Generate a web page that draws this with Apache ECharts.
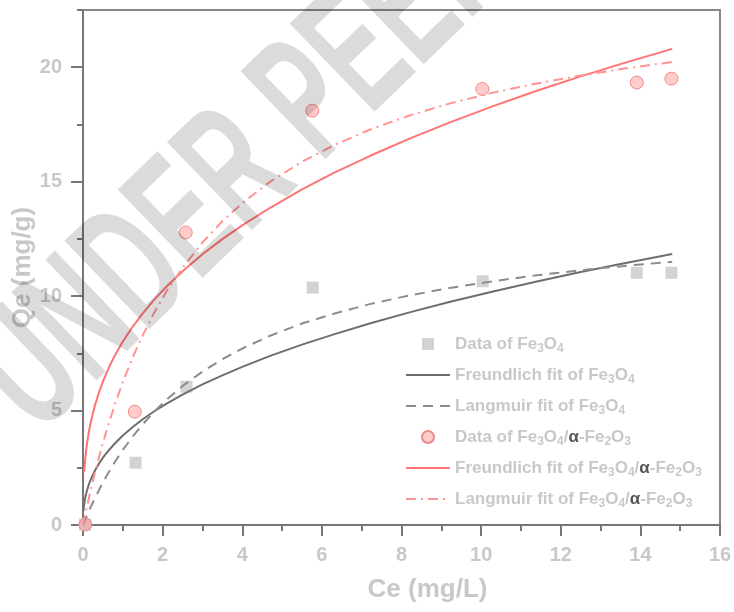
<!DOCTYPE html>
<html>
<head>
<meta charset="utf-8">
<script src="https://cdn.jsdelivr.net/npm/echarts@6/dist/echarts.min.js"></script>
<style>
  html, body { margin: 0; padding: 0; background: #fff; }
  #chart { width: 734px; height: 612px; }
</style>
</head>
<body>
<div id="chart"></div>
<script>
// measured data
const fe3o4X = [0.05, 1.32, 2.6, 5.77, 10.04, 13.91, 14.78]
const fe3o4Q = [0.02, 2.72, 6.04, 10.37, 10.65, 11.02, 11.02]
const compX = [0.06, 1.30, 2.58, 5.76, 10.03, 13.91, 14.78]
const compQ = [0.02, 4.95, 12.78, 18.1, 19.05, 19.33, 19.5]

// fit curves
const freFeX = [0.01, 0.02, 0.04, 0.07, 0.1, 0.15, 0.2, 0.3, 0.4, 0.5, 0.65, 0.8, 1.0, 1.25, 1.5, 1.8, 2.1, 2.5, 3.0, 3.5, 4.0, 4.7, 5.5, 6.3, 7.2, 8.2, 9.2, 10.3, 11.4, 12.5, 13.6, 14.8]
const freFeQ = [0.59, 0.78, 1.04, 1.31, 1.51, 1.79, 2.01, 2.38, 2.68, 2.94, 3.27, 3.56, 3.91, 4.28, 4.62, 4.98, 5.3, 5.7, 6.14, 6.54, 6.91, 7.39, 7.88, 8.33, 8.8, 9.29, 9.74, 10.2, 10.64, 11.05, 11.44, 11.84]
const lanFeX = [0, 0.05, 0.1, 0.2, 0.3, 0.45, 0.6, 0.8, 1.0, 1.25, 1.5, 1.8, 2.1, 2.5, 3.0, 3.5, 4.0, 4.7, 5.5, 6.3, 7.2, 8.2, 9.2, 10.3, 11.4, 12.5, 13.6, 14.8]
const lanFeQ = [0, 0.21, 0.41, 0.81, 1.17, 1.69, 2.17, 2.75, 3.28, 3.87, 4.4, 4.97, 5.48, 6.07, 6.7, 7.24, 7.71, 8.27, 8.8, 9.23, 9.65, 10.03, 10.35, 10.65, 10.91, 11.13, 11.32, 11.5]
const freCompX = [0.025, 0.04, 0.07, 0.1, 0.15, 0.2, 0.3, 0.4, 0.5, 0.65, 0.8, 1.0, 1.25, 1.5, 1.8, 2.1, 2.5, 3.0, 3.5, 4.0, 4.7, 5.5, 6.3, 7.2, 8.2, 9.2, 10.3, 11.4, 12.5, 13.6, 14.8]
const freCompQ = [2.3, 2.56, 3.13, 3.55, 4.1, 4.53, 5.23, 5.79, 6.27, 6.88, 7.41, 8.02, 8.67, 9.25, 9.87, 10.42, 11.09, 11.83, 12.49, 13.09, 13.86, 14.66, 15.38, 16.12, 16.88, 17.58, 18.3, 18.97, 19.6, 20.19, 20.8]
const lanCompX = [0, 0.05, 0.1, 0.2, 0.3, 0.45, 0.6, 0.8, 1.0, 1.25, 1.5, 1.8, 2.1, 2.5, 3.0, 3.5, 4.0, 4.7, 5.5, 6.3, 7.2, 8.2, 9.2, 10.3, 11.4, 12.5, 13.6, 14.8]
const lanCompQ = [0, 0.41, 0.81, 1.57, 2.29, 3.27, 4.18, 5.27, 6.24, 7.33, 8.29, 9.31, 10.21, 11.24, 12.34, 13.27, 14.06, 15.0, 15.87, 16.59, 17.27, 17.89, 18.41, 18.89, 19.29, 19.64, 19.94, 20.23]

const yMajorTicks = [0, 5, 10, 15, 20]
const yMinorTicks = [2.5, 7.5, 12.5, 17.5, 22.5]

const names = [
  'Data of Fe3O4',
  'Freundlich fit of Fe3O4',
  'Langmuir fit of Fe3O4',
  'Data of Fe3O4/α-Fe2O3',
  'Freundlich fit of Fe3O4/α-Fe2O3',
  'Langmuir fit of Fe3O4/α-Fe2O3',
]

const zip = (xs, ys) => xs.map((x, i) => [x, ys[i]])

// legend label with subscripts
const legendText = (name) =>
  name
    .replace(/Fe3O4/g, 'Fe{s|3}O{s|4}')
    .replace(/Fe2O3/g, 'Fe{s|2}O{s|3}')
    .replace(/α/g, '{a|α}')

const labelColor = '#c8c8c8'
const axisColor = '#777'

const chart = echarts.init(document.getElementById('chart'))

const lineSeries = (name, xs, ys, color, type) => ({
  name,
  type: 'line',
  data: zip(xs, ys),
  showSymbol: false,
  symbol: 'none',
  z: 3,
  lineStyle: { color, width: 2, type },
  itemStyle: { color },
})

// line legend entries: hide the dot in the middle of the icon
const noDot = { opacity: 0 }
const square = 'path://M0,0L10,0L10,10L0,10Z'

const option = {
  animation: false,
  grid: {
    left: 83, top: 10, width: 637, height: 515,
    outerBoundsMode: 'none',
    containLabel: false,
    show: true, borderColor: '#888', borderWidth: 2,
  },
  legend: {
    orient: 'vertical',
    left: 400,
    top: 328,
    itemWidth: 44,
    itemHeight: 12,
    itemGap: 9,
    data: [
      { name: names[0], icon: square },
      { name: names[1], itemStyle: noDot },
      { name: names[2], itemStyle: noDot },
      { name: names[3] },
      { name: names[4], itemStyle: noDot },
      { name: names[5], itemStyle: noDot },
    ],
    formatter: legendText,
    textStyle: {
      color: labelColor,
      fontSize: 17,
      fontWeight: 'bold',
      fontFamily: 'Arial',
      lineHeight: 20,
      rich: {
        s: { fontSize: 12, fontWeight: 'bold', color: labelColor, fontFamily: 'Arial', lineHeight: 12, padding: [10, 0, 0, 0] },
        a: { fontSize: 17, fontWeight: 'bold', color: '#555', fontFamily: 'Arial', lineHeight: 20 },
      },
    },
  },
  xAxis: {
    type: 'value',
    min: 0, max: 16, interval: 2,
    name: 'Ce (mg/L)',
    nameLocation: 'middle',
    nameGap: 52,
    nameTextStyle: { color: labelColor, fontSize: 26, fontWeight: 'bold', fontFamily: 'Arial', padding: [0, 0, 0, 52] },
    axisLine: { lineStyle: { color: axisColor, width: 2 } },
    axisTick: { length: 11, lineStyle: { color: axisColor, width: 2 } },
    minorTick: { show: true, splitNumber: 2, length: 6, lineStyle: { color: axisColor, width: 2 } },
    splitLine: { show: false },
    axisLabel: { color: labelColor, fontSize: 20, fontWeight: 'bold', fontFamily: 'Arial', margin: 20 },
  },
  yAxis: [
    {
      type: 'value',
      min: 0, max: 22.5,
      name: 'Qe (mg/g)',
      nameLocation: 'middle',
      nameGap: 47,
      nameMoveOverlap: false,
      nameRotate: 90,
      nameTextStyle: { color: labelColor, fontSize: 26, fontWeight: 'bold', fontFamily: 'Arial' },
      axisLine: { show: true, lineStyle: { color: axisColor, width: 2 } },
      axisTick: { show: true, length: 12, customValues: yMajorTicks, lineStyle: { color: axisColor, width: 2 } },
      splitLine: { show: false },
      axisLabel: { customValues: yMajorTicks, color: labelColor, fontSize: 20, fontWeight: 'bold', fontFamily: 'Arial', margin: 21 },
    },
    {
      type: 'value',
      min: 0, max: 22.5,
      position: 'left',
      axisLine: { show: false },
      axisTick: { show: true, length: 6, customValues: yMinorTicks, lineStyle: { color: axisColor, width: 2 } },
      splitLine: { show: false },
      axisLabel: { show: false },
    },
  ],
  graphic: [
    {
      type: 'text',
      x: 401, y: 18,
      rotation: 44 * Math.PI / 180,
      scaleX: 0.575,
      silent: true,
      z: 100,
      style: {
        text: 'UNDER PEER REVIEW',
        font: 'bold 178px Arial',
        fill: 'rgba(0,0,0,0.14)',
        align: 'center',
        verticalAlign: 'middle',
      },
    },
  ],
  series: [
    {
      name: names[0],
      type: 'scatter',
      data: zip(fe3o4X, fe3o4Q),
      symbol: 'rect',
      symbolSize: 12,
      z: 2,
      itemStyle: { color: '#d3d3d3', opacity: 1 },
    },
    lineSeries(names[1], freFeX, freFeQ, '#6e6e6e', 'solid'),
    lineSeries(names[2], lanFeX, lanFeQ, '#8c8c8c', [10, 7]),
    {
      name: names[3],
      type: 'scatter',
      data: zip(compX, compQ),
      symbol: 'circle',
      symbolSize: 13,
      z: 2,
      itemStyle: { color: 'rgba(255,140,140,0.45)', borderColor: '#f08a8a', borderWidth: 1, opacity: 1 },
    },
    lineSeries(names[4], freCompX, freCompQ, '#ff7373', 'solid'),
    lineSeries(names[5], lanCompX, lanCompQ, '#ff9494', [10, 5, 2, 5]),
  ],
}

chart.setOption(option)
</script>
</body>
</html>
